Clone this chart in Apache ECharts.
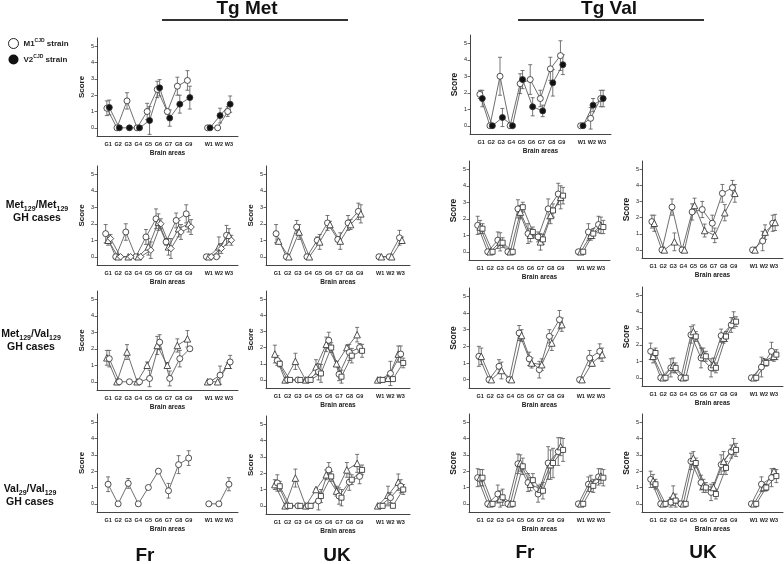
<!DOCTYPE html>
<html>
<head>
<meta charset="utf-8">
<script src="https://cdn.jsdelivr.net/npm/echarts@6/dist/echarts.min.js"></script>
<style>html,body{margin:0;padding:0;background:#fff;}#c{width:784px;height:564px;}</style>
</head>
<body>
<div id="c"></div>
<script>
// ---------- categories & ticks ----------
const brainAreas = ['G1','G2','G3','G4','G5','G6','G7','G8','G9','','W1','W2','W3'];
const areaTickIdx = [0,1,2,3,4,5,6,7,8,10,11,12];
const scoreTicks = [0,1,2,3,4,5];

// ---------- Row 1: Tg Met ----------
const tgMetM1    = [1.2,0,1.65,0,1.0,2.35,1.0,2.55,2.9,null,0,0,1.0];
const tgMetM1Err = [0.45,0,0.5,0,0.5,0.5,0.15,0.55,0.6,null,0,0,0.3];
const tgMetV2    = [1.25,0,0,0,0.45,2.45,0.6,1.45,1.85,null,0,0.75,1.45];
const tgMetV2Err = [0.45,0,0,0,0.85,0.5,0.5,0.55,0.7,null,0,0.45,0.5];
// ---------- Row 1: Tg Val ----------
const tgValM1    = [1.9,0,3.0,0,2.55,2.8,1.65,3.45,4.25,null,0,0.45,1.65];
const tgValM1Err = [0.25,0,1.15,0,0.6,0.9,0.5,0.7,0.9,null,0,0.65,0.5];
const tgValV2    = [1.65,0,0.5,0,2.8,1.15,0.9,2.6,3.7,null,0,1.25,1.65];
const tgValV2Err = [0.5,0,0.55,0,0.55,0.55,0.35,0.8,0.6,null,0,0.4,0.5];

// ---------- Met/Met GH cases ----------
const mmFrA    = [1.4,0,1.5,0,1.2,2.3,0.9,2.2,2.6,null,0,0,1.3];
const mmFrAErr = [0.55,0,0.5,0,0.45,0.6,0.2,0.45,0.55,null,0,0,0.6];
const mmFrB    = [1.0,0,0,0,0.6,2.1,0.6,1.7,2.0,null,0,0.6,1.3];
const mmFrBErr = [0.3,0,0,0,0.5,0.5,0.5,0.5,0.5,null,0,0.6,0.4];
const mmFrC    = [1.1,0,0,0,0.4,2.0,0.5,1.5,1.8,null,0,0.5,1.0];
const mmFrCErr = [0.25,0,0,0,0.5,0.3,0.6,0.45,0.45,null,0,0.3,0.3];

const mmUkA    = [1.4,0,1.8,0,1.0,2.05,1.05,2.05,2.75,null,0,0,1.15];
const mmUkAErr = [0.55,0,0.4,0,0.2,0.45,0.15,0.45,0.5,null,0,0,0.45];
const mmUkB    = [0.95,0,1.5,0,0.9,1.95,0.95,1.95,2.6,null,0,0,1.0];
const mmUkBErr = [0.1,0,0.45,0,0.45,0.2,0.5,0.3,0.55,null,0,0,0.2];

const mmValFrA    = [1.6,0,0.7,0,2.6,1.1,0.9,2.6,3.5,null,0,1.2,1.65];
const mmValFrAErr = [0.55,0,0.5,0,0.55,0.6,0.3,0.6,0.65,null,0,0.5,0.5];
const mmValFrB    = [1.5,0,0.6,0,2.4,1.0,0.6,2.2,3.3,null,0,1.0,1.6];
const mmValFrBErr = [0.4,0,0.55,0,0.4,0.4,0.5,0.5,0.7,null,0,0.3,0.5];
const mmValFrC    = [1.4,0,0.55,0,2.7,1.2,0.75,2.5,3.4,null,0,1.1,1.5];
const mmValFrCErr = [0.3,0,0.3,0,0.3,0.3,0.3,0.4,0.5,null,0,0.3,0.4];

const mmValUkA    = [1.75,0,2.65,0,2.35,2.5,1.65,3.5,3.85,null,0,0.55,1.65];
const mmValUkAErr = [0.4,0,0.5,0,0.5,0.5,0.5,0.55,0.45,null,0,0.6,0.5];
const mmValUkB    = [1.65,0,0.5,0,2.75,1.2,0.9,2.3,3.5,null,0,1.1,1.7];
const mmValUkBErr = [0.5,0,0.55,0,0.45,0.4,0.45,0.5,0.55,null,0,0.45,0.5];

// ---------- Met/Val GH cases ----------
const mvFrA    = [1.45,0,1.8,0,1.0,2.2,1.0,2.2,2.6,null,0,0,1.0];
const mvFrAErr = [0.45,0,0.45,0,0.2,0.55,0.15,0.4,0.5,null,0,0,0.15];
const mvFrB    = [1.4,0,0,0,0.2,2.4,0.2,1.4,2.0,null,0,0.4,1.2];
const mvFrBErr = [0.5,0,0,0,0.5,0.45,0.45,0.5,0.1,null,0,0.55,0.4];

const mvUkA    = [1.6,0,1.15,0,0.8,2.2,1.0,2.0,2.8,null,0,0.1,1.6];
const mvUkAErr = [0.55,0,0.5,0,0.45,0.45,0.15,0.15,0.45,null,0,0.2,0.5];
const mvUkB    = [1.2,0,0,0,0.5,2.45,0.35,1.7,2.0,null,0,0.4,1.6];
const mvUkBErr = [0.3,0,0,0,0.5,0.5,0.4,0.5,0.25,null,0,0.75,0.5];
const mvUkC    = [1.0,0,0,0,0.4,2.0,0.2,1.5,1.8,null,0,0.05,1.05];
const mvUkCErr = [0.2,0,0,0,0.55,0.3,0.4,0.45,0.4,null,0,0.1,0.3];

const mvValFrA    = [1.4,0,0.8,0,2.8,1.25,0.6,2.6,3.6,null,0,1.3,1.7];
const mvValFrAErr = [0.6,0,0.4,0,0.45,0.4,0.5,0.4,0.55,null,0,0.45,0.45];
const mvValFrB    = [1.4,0,0.55,0,2.65,1.0,0.9,2.2,3.3,null,0,1.0,1.5];
const mvValFrBErr = [0.5,0,0.5,0,0.35,0.3,0.35,0.45,0.4,null,0,0.2,0.4];

const mvValUkA    = [1.6,0,0.6,0,2.6,1.2,0.6,2.55,3.2,null,0,0.65,1.6];
const mvValUkAErr = [0.5,0,0.55,0,0.5,0.6,0.55,0.4,0.45,null,0,0.6,0.55];
const mvValUkB    = [1.3,0,0.75,0,2.8,1.4,0.8,2.4,3.5,null,0,1.0,1.3];
const mvValUkBErr = [0.4,0,0.45,0,0.4,0.4,0.4,0.3,0.5,null,0,0.15,0.3];
const mvValUkC    = [1.5,0,0.6,0,2.5,1.3,0.6,2.5,3.4,null,0,0.9,1.4];
const mvValUkCErr = [0.3,0,0.3,0,0.3,0.3,0.3,0.3,0.3,null,0,0.2,0.3];

// ---------- Val/Val GH cases ----------
const vvFr    = [1.2,0,1.25,0,1.0,2.0,0.8,2.4,2.8,null,0,0,1.2];
const vvFrErr = [0.45,0,0.3,0,0,0,0.45,0.55,0.45,null,0,0,0.4];

const vvUkA    = [1.3,0,1.7,0,1.0,1.9,0.9,2.2,2.6,null,0,0.65,1.45];
const vvUkAErr = [0.3,0,0.55,0,0.05,0.3,0.3,0.45,0.55,null,0,0.55,0.5];
const vvUkB    = [1.4,0,0,0,0.3,2.2,0.6,1.45,1.8,null,0,0.5,1.2];
const vvUkBErr = [0.5,0,0,0,0.55,0.45,0.5,0.5,0.45,null,0,0.3,0.4];
const vvUkC    = [1.2,0,0,0,0.6,1.8,0.5,1.6,2.2,null,0,0,1.0];
const vvUkCErr = [0.3,0,0,0,0.4,0.3,0.5,0.3,0.3,null,0,0,0.3];

const vvValFrA    = [1.6,0,0.6,0,2.45,1.3,0.6,2.5,3.2,null,0,1.2,1.65];
const vvValFrAErr = [0.55,0,0.55,0,0.6,0.55,0.5,1.0,0.85,null,0,0.45,0.5];
const vvValFrB    = [1.6,0,0.3,0,2.5,1.2,0.9,2.4,3.5,null,0,1.25,1.7];
const vvValFrBErr = [0.5,0,0.5,0,0.5,0.4,0.3,0.9,0.55,null,0,0.5,0.45];
const vvValFrC    = [1.6,0,0.4,0,2.3,1.45,0.8,2.5,3.3,null,0,1.1,1.6];
const vvValFrCErr = [0.5,0,0.5,0,0.5,0.4,0.5,0.9,0.7,null,0,0.4,0.5];

const vvValUkA    = [1.5,0,0.1,0,2.6,1.3,0.7,2.4,3.2,null,0,1.2,1.6];
const vvValUkAErr = [0.5,0,0.3,0,0.5,0.45,0.5,0.6,0.4,null,0,0.45,0.55];
const vvValUkB    = [1.4,0,0.5,0,2.8,1.1,1.0,2.6,3.5,null,0,1.0,2.0];
const vvValUkBErr = [0.4,0,0.6,0,0.4,0.4,0.3,0.6,0.5,null,0,0.2,0.15];
const vvValUkC    = [1.2,0,0.2,0,2.5,1.0,0.6,2.2,3.3,null,0,1.0,1.7];
const vvValUkCErr = [0.3,0,0.4,0,0.3,0.3,0.3,0.4,0.4,null,0,0.2,0.4];

// ---------- layout (pixel boxes: left, right, top, bottom) ----------
const FONT = "'Liberation Sans', Arial, Helvetica, sans-serif";
const panels = [
  {box:[97,238,38,136],  s:[[tgMetM1,tgMetM1Err,'circle','M1'],[tgMetV2,tgMetV2Err,'filled','V2']]},
  {box:[470,611,35,134], s:[[tgValM1,tgValM1Err,'circle','M1'],[tgValV2,tgValV2Err,'filled','V2']]},
  {box:[97,238,166,265], s:[[mmFrA,mmFrAErr,'circle'],[mmFrB,mmFrBErr,'triangle'],[mmFrC,mmFrCErr,'diamond']]},
  {box:[266,410,166,265],s:[[mmUkA,mmUkAErr,'circle'],[mmUkB,mmUkBErr,'triangle']]},
  {box:[469,610,161,260],s:[[mmValFrA,mmValFrAErr,'circle'],[mmValFrB,mmValFrBErr,'triangle'],[mmValFrC,mmValFrCErr,'rect']]},
  {box:[642,783,161,258],s:[[mmValUkA,mmValUkAErr,'circle'],[mmValUkB,mmValUkBErr,'triangle']]},
  {box:[97,238,291,390], s:[[mvFrA,mvFrAErr,'triangle'],[mvFrB,mvFrBErr,'circle']]},
  {box:[266,410,291,388],s:[[mvUkA,mvUkAErr,'triangle'],[mvUkB,mvUkBErr,'circle'],[mvUkC,mvUkCErr,'rect']]},
  {box:[469,610,288,388],s:[[mvValFrA,mvValFrAErr,'circle'],[mvValFrB,mvValFrBErr,'triangle']]},
  {box:[642,783,287,386],s:[[mvValUkA,mvValUkAErr,'circle'],[mvValUkB,mvValUkBErr,'triangle'],[mvValUkC,mvValUkCErr,'rect']]},
  {box:[97,238,414,512], s:[[vvFr,vvFrErr,'circle']]},
  {box:[266,410,416,514],s:[[vvUkA,vvUkAErr,'triangle'],[vvUkB,vvUkBErr,'circle'],[vvUkC,vvUkCErr,'rect']]},
  {box:[469,610,414,512],s:[[vvValFrA,vvValFrAErr,'circle'],[vvValFrB,vvValFrBErr,'triangle'],[vvValFrC,vvValFrCErr,'rect']]},
  {box:[642,783,414,512],s:[[vvValUkA,vvValUkAErr,'circle'],[vvValUkB,vvValUkBErr,'triangle'],[vvValUkC,vvValUkCErr,'rect']]}
];

const option = {
  animation: false,
  backgroundColor: '#ffffff',
  grid: [], xAxis: [], yAxis: [], series: [],
  legend: {
    orient: 'vertical', left: 3, top: 33, itemWidth: 10, itemHeight: 10, itemGap: 5,
    selectedMode: false,
    data: [
      {name:'M1', icon:'circle', itemStyle:{color:'#ffffff', borderColor:'#222', borderWidth:1}},
      {name:'V2', icon:'circle', itemStyle:{color:'#111111', borderWidth:0}}
    ],
    formatter: n => '{a|' + n + '}{p|CJD}{a| strain}',
    textStyle: {
      rich: {
        a: {fontFamily: FONT, fontWeight:'bold', fontSize: 8, color:'#222', lineHeight: 11},
        p: {fontFamily: FONT, fontWeight:'bold', fontSize: 5, color:'#222', verticalAlign:'top', lineHeight: 11}
      }
    }
  },
  graphic: []
};

const axisCol = '#444';
panels.forEach((p, i) => {
  const [l, r, t, b] = p.box;
  const bigScore = (l > 400);
  option.grid.push({left: l, top: t, width: r - l, height: b - t});
  option.xAxis.push({
    type: 'value', gridIndex: i, min: -1.1, max: 12.9,
    axisLine: {show: true, onZero: false, lineStyle: {color: axisCol, width: 1}},
    axisTick: {show: false}, splitLine: {show: false},
    axisLabel: {customValues: areaTickIdx, formatter: v => brainAreas[Math.round(v)],
      fontFamily: FONT, fontWeight: 'bold', fontSize: 5.5, color: '#222', margin: 5.5},
    name: 'Brain areas', nameLocation: 'middle', nameGap: 14,
    nameTextStyle: {fontFamily: FONT, fontWeight: 'bold', fontSize: 6.5, color: '#222'}
  });
  option.yAxis.push({
    type: 'value', gridIndex: i, min: -0.5, max: 5.5,
    axisLine: {show: true, onZero: false, lineStyle: {color: axisCol, width: 1}},
    axisTick: {show: true, length: 2.5, customValues: scoreTicks, lineStyle: {color: axisCol, width: 0.8}},
    splitLine: {show: false},
    axisLabel: {customValues: scoreTicks, fontFamily: FONT, fontSize: 5.5, color: '#222', margin: 3},
    name: 'Score', nameLocation: 'middle', nameGap: 11, nameRotate: 90,
    nameTextStyle: {fontFamily: FONT, fontWeight: 'bold', fontSize: bigScore ? 8.5 : 8, color: '#222'}
  });
  const n = p.s.length;
  p.s.forEach((ser, k) => {
    const [vals, errs, kind, name] = ser;
    const off = (k - (n - 1) / 2) * 0.24;
    const filled = kind === 'filled';
    option.series.push({
      type: 'line', name: name || ('p' + i + 's' + k), xAxisIndex: i, yAxisIndex: i,
      data: vals.map((v, j) => [j + off, v == null ? '-' : v]),
      connectNulls: false, z: 4,
      symbol: filled ? 'circle' : kind,
      symbolSize: kind === 'triangle' ? 6.5 : (kind === 'rect' ? 5 : (kind === 'diamond' ? 6.5 : 6)),
      itemStyle: {color: filled ? '#111' : '#ffffff', borderColor: '#333', borderWidth: 0.85},
      lineStyle: {color: '#555', width: 0.85},
      emphasis: {disabled: true}
    });
    option.series.push({
      type: 'custom', name: 'err' + i + '_' + k, xAxisIndex: i, yAxisIndex: i, z: 3,
      encode: {x: 0, y: 1},
      data: vals.map((v, j) => v == null ? null : [j + off, v, errs[j]]).filter(d => d && d[2] > 0),
      renderItem: (params, api) => {
        const x = api.value(0), y = api.value(1), e = api.value(2);
        const top = api.coord([x, y + e]);
        const bot = api.coord([x, y - e]);
        const st = {stroke: '#555', lineWidth: 0.8};
        return {type: 'group', children: [
          {type: 'line', shape: {x1: top[0], y1: top[1], x2: bot[0], y2: bot[1]}, style: st},
          {type: 'line', shape: {x1: top[0] - 2, y1: top[1], x2: top[0] + 2, y2: top[1]}, style: st},
          {type: 'line', shape: {x1: bot[0] - 2, y1: bot[1], x2: bot[0] + 2, y2: bot[1]}, style: st}
        ]};
      },
      emphasis: {disabled: true}
    });
  });
});

// headings, row labels, column labels
const heading = (txt, x, y, size) => ({type: 'text', x: x, y: y,
  style: {text: txt, fontFamily: FONT, fontWeight: 'bold', fontSize: size, fill: '#111', align: 'center', verticalAlign: 'middle'}});
option.graphic.push(heading('Tg Met', 247, 9, 19));
option.graphic.push(heading('Tg Val', 609, 9, 19));
option.graphic.push({type: 'line', shape: {x1: 162, y1: 20, x2: 348, y2: 20}, style: {stroke: '#333', lineWidth: 2}});
option.graphic.push({type: 'line', shape: {x1: 518, y1: 20, x2: 704, y2: 20}, style: {stroke: '#333', lineWidth: 2}});
option.graphic.push(heading('Fr', 145, 556, 19));
option.graphic.push(heading('UK', 337, 556, 19));
option.graphic.push(heading('Fr', 525, 553, 19));
option.graphic.push(heading('UK', 703, 553, 19));

const rowRich = {
  b: {fontFamily: FONT, fontWeight: 'bold', fontSize: 10.5, fill: '#111', lineHeight: 12},
  s: {fontFamily: FONT, fontWeight: 'bold', fontSize: 7, fill: '#111', lineHeight: 15, verticalAlign: 'bottom'}
};
const rowLabel = (txt, x, y) => ({type: 'text', x: x, y: y,
  style: {text: txt, rich: rowRich, align: 'center', verticalAlign: 'middle', textAlign: 'center'}});
option.graphic.push(rowLabel('{b|Met}{s|129}{b|/Met}{s|129}\n{b|GH cases}', 37, 211));
option.graphic.push(rowLabel('{b|Met}{s|129}{b|/Val}{s|129}\n{b|GH cases}', 31, 340));
option.graphic.push(rowLabel('{b|Val}{s|29}{b|/Val}{s|129}\n{b|GH cases}', 30, 495));

const chart = echarts.init(document.getElementById('c'), null, {renderer: 'canvas'});
chart.setOption(option);
</script>
</body>
</html>
